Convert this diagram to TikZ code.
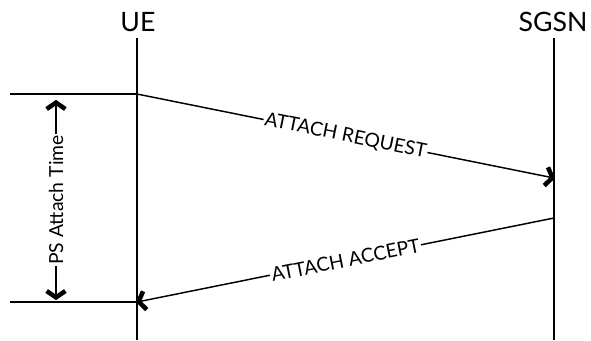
\documentclass[tikz,border=0pt]{standalone}
\usepackage{fontspec}
\setmainfont{Lato}
\usetikzlibrary{decorations.markings}
\tikzset{
  chevronline/.style={line width=3.4pt,line cap=butt,line join=miter},
  endbarb/.style={postaction={decorate,decoration={markings,
    mark=at position 1 with {\draw[chevronline] (-6pt,7pt) -- (-1.2pt,0pt) -- (-6pt,-7pt);}}}},
  bothbarb/.style={postaction={decorate,decoration={markings,
    mark=at position 0 with {\draw[chevronline] (6pt,7pt) -- (1.2pt,0pt) -- (6pt,-7pt);},
    mark=at position 1 with {\draw[chevronline] (-6pt,7pt) -- (-1.2pt,0pt) -- (-6pt,-7pt);}}}},
  life/.style={line width=1.1pt},
  msg/.style={line width=1.1pt,endbarb},
  dim/.style={line width=1.1pt,bothbarb},
  head/.style={font=\fontsize{20}{24}\selectfont},
  lbl/.style={font=\fontsize{14.5}{17}\selectfont,fill=white,inner sep=1pt,sloped}
}
\begin{document}
\begin{tikzpicture}[x=0.75pt,y=-0.75pt]
\useasboundingbox (0,0) rectangle (591,340);
\node[head] (ue) at (138,22) {UE};
\node[head] (sgsn) at (553,22) {SGSN};
\coordinate (ueTop) at (137,38);
\coordinate (ueBot) at (137,340);
\coordinate (sgTop) at (554,38);
\coordinate (sgBot) at (554,340);
\draw[life] (ueTop) -- (ueBot);
\draw[life] (sgTop) -- (sgBot);
\coordinate (a1) at (137,94);
\coordinate (b1) at (554,178);
\coordinate (b2) at (554,218);
\coordinate (a2) at (137,302);
\coordinate (l1) at (10,94);
\coordinate (l2) at (10,302);
\draw[life] (l1) -- (a1);
\draw[life] (l2) -- (a2);
\draw[msg] (a1) -- node[lbl] {ATTACH REQUEST} (b1);
\draw[msg] (b2) -- node[lbl] {ATTACH ACCEPT} (a2);
\coordinate (d1) at (56,101);
\coordinate (d2) at (56,299);
\draw[dim] (d2) -- node[lbl] {PS Attach Time} (d1);
\end{tikzpicture}
\end{document}
